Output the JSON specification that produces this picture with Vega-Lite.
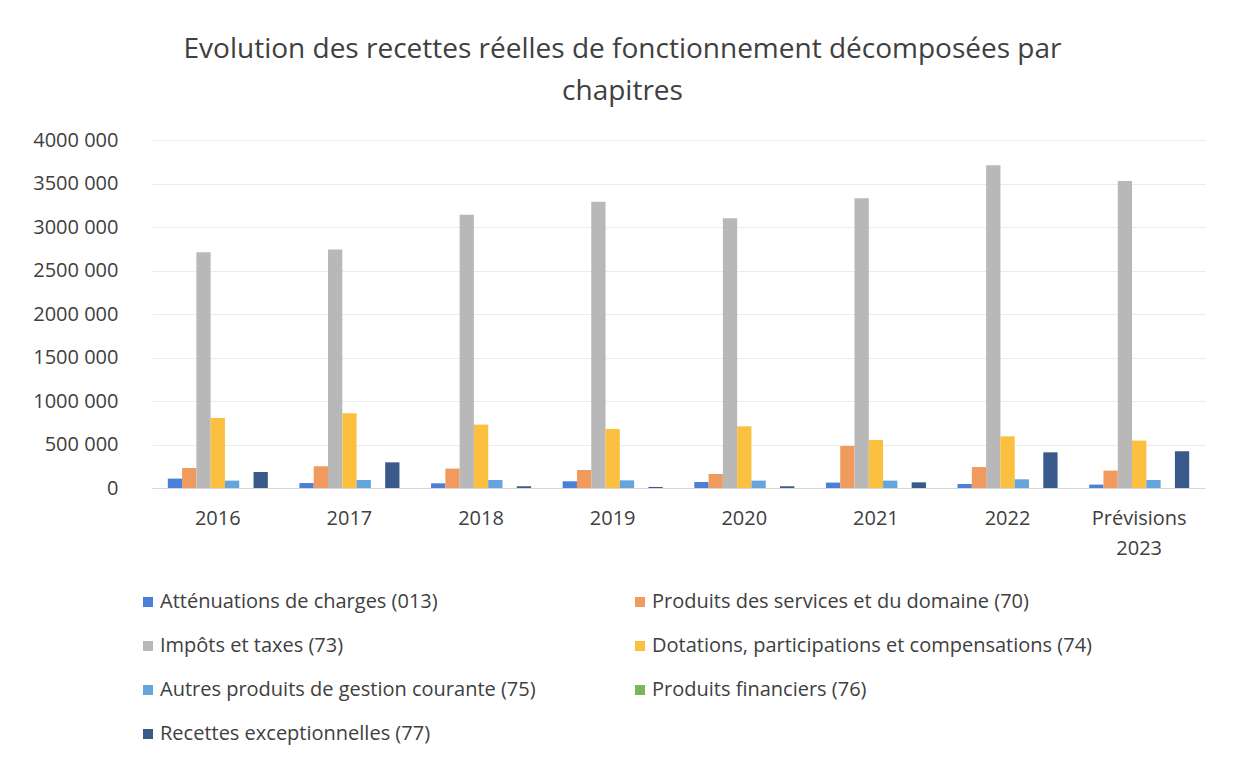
{
  "$schema": "https://vega.github.io/schema/vega-lite/v6.json",
  "autosize": "none",
  "width": 1053,
  "height": 348,
  "padding": {"left": 152, "top": 140, "right": 28, "bottom": 277},
  "background": "white",
  "title": {
    "text": ["Evolution des recettes réelles de fonctionnement décomposées par", "chapitres"],
    "fontSize": 28,
    "font": "Open Sans",
    "fontWeight": "normal",
    "color": "#404040",
    "anchor": "middle",
    "dx": -56,
    "offset": 24,
    "lineHeight": 42
  },
  "config": {
    "font": "Open Sans",
    "view": {"stroke": null}
  },
  "data": {
    "values": [
      {"annee": "2016", "chapitre": "Atténuations de charges (013)", "valeur": 108000},
      {"annee": "2016", "chapitre": "Produits des services et du domaine (70)", "valeur": 230000},
      {"annee": "2016", "chapitre": "Impôts et taxes (73)", "valeur": 2710000},
      {"annee": "2016", "chapitre": "Dotations, participations et compensations (74)", "valeur": 805000},
      {"annee": "2016", "chapitre": "Autres produits de gestion courante (75)", "valeur": 85000},
      {"annee": "2016", "chapitre": "Produits financiers (76)", "valeur": 0},
      {"annee": "2016", "chapitre": "Recettes exceptionnelles (77)", "valeur": 184000},
      {"annee": "2017", "chapitre": "Atténuations de charges (013)", "valeur": 57000},
      {"annee": "2017", "chapitre": "Produits des services et du domaine (70)", "valeur": 250000},
      {"annee": "2017", "chapitre": "Impôts et taxes (73)", "valeur": 2740000},
      {"annee": "2017", "chapitre": "Dotations, participations et compensations (74)", "valeur": 858000},
      {"annee": "2017", "chapitre": "Autres produits de gestion courante (75)", "valeur": 92000},
      {"annee": "2017", "chapitre": "Produits financiers (76)", "valeur": 0},
      {"annee": "2017", "chapitre": "Recettes exceptionnelles (77)", "valeur": 295000},
      {"annee": "2018", "chapitre": "Atténuations de charges (013)", "valeur": 54000},
      {"annee": "2018", "chapitre": "Produits des services et du domaine (70)", "valeur": 223000},
      {"annee": "2018", "chapitre": "Impôts et taxes (73)", "valeur": 3140000},
      {"annee": "2018", "chapitre": "Dotations, participations et compensations (74)", "valeur": 729000},
      {"annee": "2018", "chapitre": "Autres produits de gestion courante (75)", "valeur": 92000},
      {"annee": "2018", "chapitre": "Produits financiers (76)", "valeur": 0},
      {"annee": "2018", "chapitre": "Recettes exceptionnelles (77)", "valeur": 20000},
      {"annee": "2019", "chapitre": "Atténuations de charges (013)", "valeur": 77000},
      {"annee": "2019", "chapitre": "Produits des services et du domaine (70)", "valeur": 207000},
      {"annee": "2019", "chapitre": "Impôts et taxes (73)", "valeur": 3290000},
      {"annee": "2019", "chapitre": "Dotations, participations et compensations (74)", "valeur": 678000},
      {"annee": "2019", "chapitre": "Autres produits de gestion courante (75)", "valeur": 88000},
      {"annee": "2019", "chapitre": "Produits financiers (76)", "valeur": 0},
      {"annee": "2019", "chapitre": "Recettes exceptionnelles (77)", "valeur": 12000},
      {"annee": "2020", "chapitre": "Atténuations de charges (013)", "valeur": 69000},
      {"annee": "2020", "chapitre": "Produits des services et du domaine (70)", "valeur": 161000},
      {"annee": "2020", "chapitre": "Impôts et taxes (73)", "valeur": 3100000},
      {"annee": "2020", "chapitre": "Dotations, participations et compensations (74)", "valeur": 709000},
      {"annee": "2020", "chapitre": "Autres produits de gestion courante (75)", "valeur": 85000},
      {"annee": "2020", "chapitre": "Produits financiers (76)", "valeur": 0},
      {"annee": "2020", "chapitre": "Recettes exceptionnelles (77)", "valeur": 20000},
      {"annee": "2021", "chapitre": "Atténuations de charges (013)", "valeur": 62000},
      {"annee": "2021", "chapitre": "Produits des services et du domaine (70)", "valeur": 483000},
      {"annee": "2021", "chapitre": "Impôts et taxes (73)", "valeur": 3330000},
      {"annee": "2021", "chapitre": "Dotations, participations et compensations (74)", "valeur": 552000},
      {"annee": "2021", "chapitre": "Autres produits de gestion courante (75)", "valeur": 85000},
      {"annee": "2021", "chapitre": "Produits financiers (76)", "valeur": 0},
      {"annee": "2021", "chapitre": "Recettes exceptionnelles (77)", "valeur": 65000},
      {"annee": "2022", "chapitre": "Atténuations de charges (013)", "valeur": 46000},
      {"annee": "2022", "chapitre": "Produits des services et du domaine (70)", "valeur": 241000},
      {"annee": "2022", "chapitre": "Impôts et taxes (73)", "valeur": 3710000},
      {"annee": "2022", "chapitre": "Dotations, participations et compensations (74)", "valeur": 594000},
      {"annee": "2022", "chapitre": "Autres produits de gestion courante (75)", "valeur": 100000},
      {"annee": "2022", "chapitre": "Produits financiers (76)", "valeur": 0},
      {"annee": "2022", "chapitre": "Recettes exceptionnelles (77)", "valeur": 410000},
      {"annee": "Prévisions 2023", "chapitre": "Atténuations de charges (013)", "valeur": 39000},
      {"annee": "Prévisions 2023", "chapitre": "Produits des services et du domaine (70)", "valeur": 200000},
      {"annee": "Prévisions 2023", "chapitre": "Impôts et taxes (73)", "valeur": 3530000},
      {"annee": "Prévisions 2023", "chapitre": "Dotations, participations et compensations (74)", "valeur": 545000},
      {"annee": "Prévisions 2023", "chapitre": "Autres produits de gestion courante (75)", "valeur": 92000},
      {"annee": "Prévisions 2023", "chapitre": "Produits financiers (76)", "valeur": 0},
      {"annee": "Prévisions 2023", "chapitre": "Recettes exceptionnelles (77)", "valeur": 422000}
    ]
  },
  "mark": {"type": "bar"},
  "encoding": {
    "x": {
      "field": "annee",
      "type": "nominal",
      "sort": null,
      "scale": {"paddingInner": 0.24, "paddingOuter": 0.12},
      "axis": {
        "title": null,
        "labelAngle": 0,
        "labelFontSize": 20,
        "labelColor": "#404040",
        "labelPadding": 20,
        "ticks": false,
        "domain": true,
        "domainColor": "#D9D9D9",
        "labelExpr": "datum.value == 'Prévisions 2023' ? ['Prévisions', '2023'] : datum.value",
        "labelLineHeight": 30
      }
    },
    "xOffset": {
      "field": "chapitre",
      "type": "nominal",
      "sort": null,
      "scale": {"paddingInner": 0, "paddingOuter": 0}
    },
    "y": {
      "field": "valeur",
      "type": "quantitative",
      "scale": {"domain": [0, 4000000], "nice": false},
      "axis": {
        "title": null,
        "values": [0, 500000, 1000000, 1500000, 2000000, 2500000, 3000000, 3500000, 4000000],
        "labelExpr": "datum.value == 0 ? '0' : format(floor(datum.value / 1000), 'd') + ' 000'",
        "labelFontSize": 20,
        "labelColor": "#404040",
        "labelPadding": 34,
        "ticks": false,
        "domain": false,
        "gridColor": "#EBEBEB",
        "gridWidth": 1
      }
    },
    "color": {
      "field": "chapitre",
      "type": "nominal",
      "scale": {
        "domain": [
          "Atténuations de charges (013)",
          "Impôts et taxes (73)",
          "Autres produits de gestion courante (75)",
          "Recettes exceptionnelles (77)",
          "Produits des services et du domaine (70)",
          "Dotations, participations et compensations (74)",
          "Produits financiers (76)"
        ],
        "range": ["#4A80D8", "#B8B8B8", "#65A5DE", "#3A5A8C", "#F19A5E", "#FBC040", "#7DB55A"]
      },
      "legend": {
        "title": null,
        "orient": "none",
        "legendX": -14,
        "legendY": 452,
        "columns": 2,
        "columnPadding": 94,
        "rowPadding": 24,
        "symbolType": "square",
        "symbolSize": 100,
        "symbolStrokeWidth": 0,
        "labelFontSize": 20,
        "labelColor": "#404040",
        "labelOffset": 2,
        "labelLimit": 600
      }
    }
  }
}
